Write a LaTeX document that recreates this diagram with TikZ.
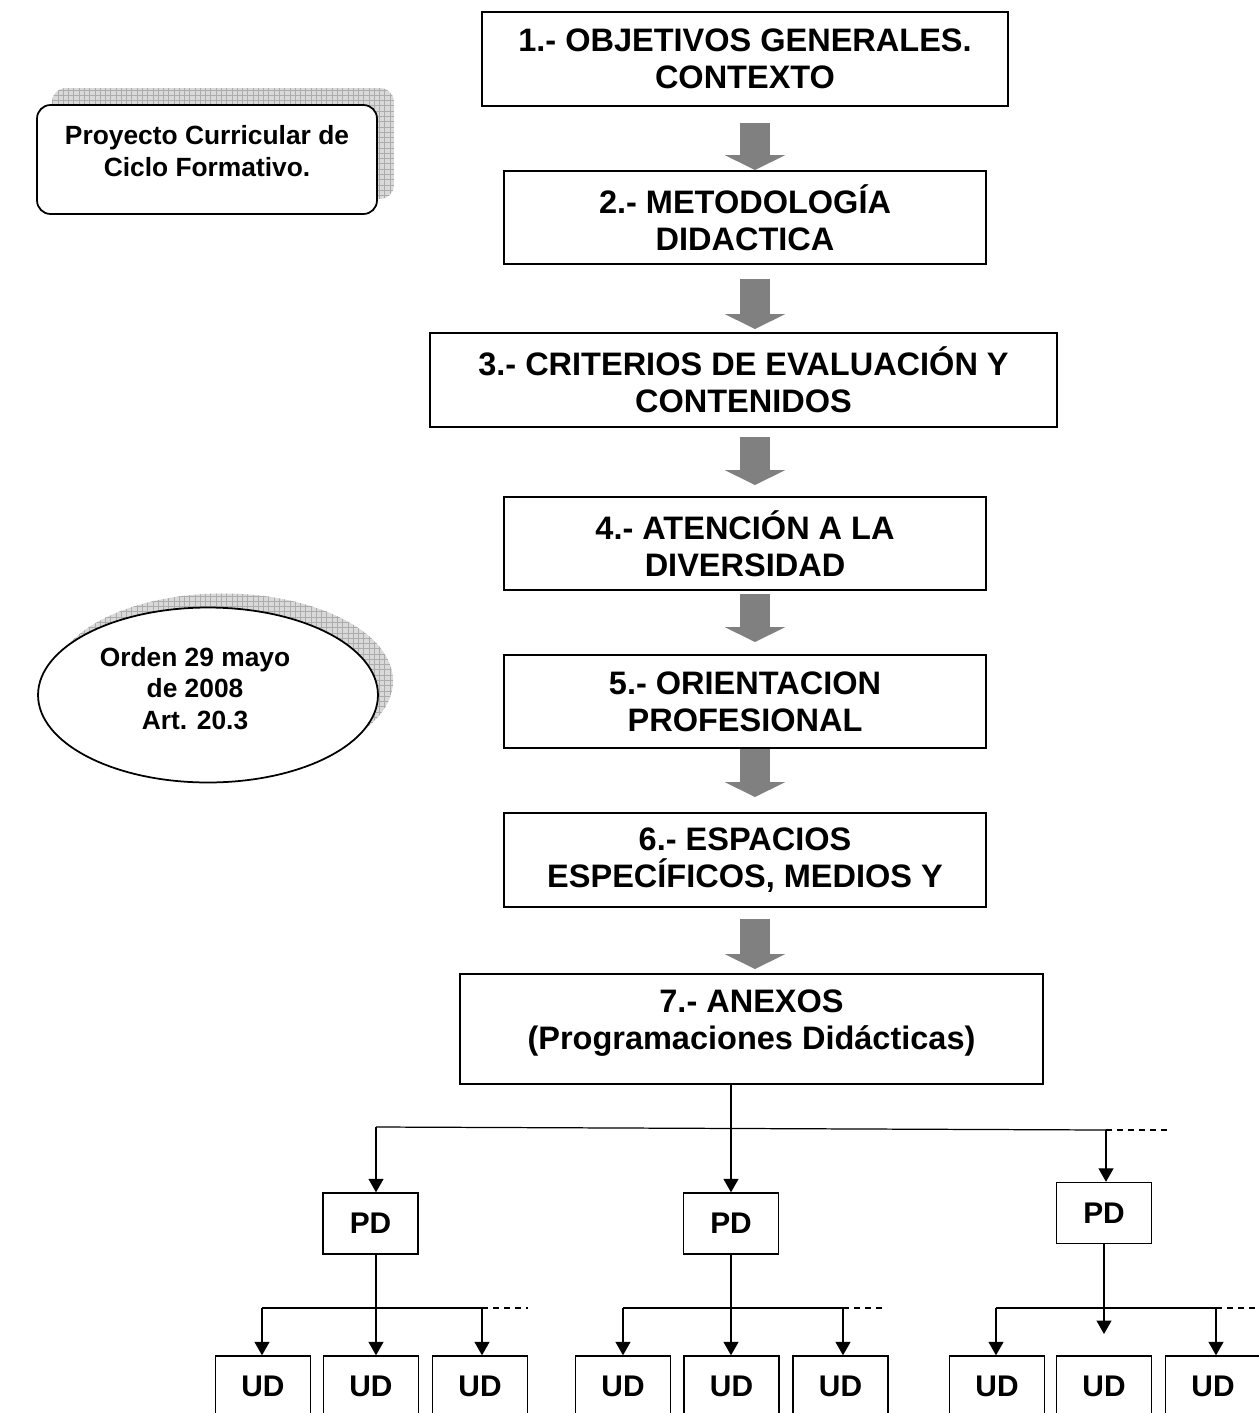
\documentclass[tikz,border=0pt]{standalone}
\usepackage{fontspec}
\setmainfont{Liberation Sans}
\usepackage{tikz}
\usetikzlibrary{arrows.meta,calc,shapes.geometric,patterns,backgrounds}

\begin{document}
\begin{tikzpicture}[x=0.02cm, y=-0.02cm,
		mainbox/.style={draw, line width=1.1pt, fill=white, align=center, inner sep=0pt, minimum width=9.64cm, minimum height=1.86cm, font=\fontsize{18.5}{21}\selectfont\bfseries},
		smallbox/.style={draw, line width=0.8pt, fill=white, inner sep=0pt, minimum width=1.9cm, minimum height=1.22cm, font=\fontsize{17}{20}\selectfont\bfseries},
		notebox/.style={draw, line width=1pt, fill=white, align=center, inner sep=0pt, font=\fontsize{15}{18}\selectfont\bfseries},
		bigarrow/.style={draw=gray, line width=0.6cm, -{Triangle[length=0.3cm,width=1.2cm]}},
		arr/.style={line width=0.7pt, -{Triangle[length=0.27cm,width=0.3cm]}},
		dots/.style={line width=0.7pt, dash pattern=on 0.12cm off 0.1cm},
		shadowfill/.style={fill=gray!30, postaction={pattern=grid, pattern color=gray!65}}]
		\useasboundingbox (0,0) rectangle (1258,1413);

		% notes on the left
		\node (pcc) [notebox, rounded corners=0.27cm, minimum width=6.8cm, minimum height=2.18cm] at (207,159.5) {Proyecto Curricular de\\Ciclo Formativo.\\[-8pt]\mbox{}};
		\node (ord) [notebox, ellipse, minimum width=6.8cm, minimum height=3.5cm] at (208,695) {\begin{tabular}{@{}c@{\hspace{0.52cm}}}Orden 29 mayo\\de 2008\\Art. 20.3\\[4pt]\end{tabular}};
		\begin{scope}[on background layer]
			\fill[shadowfill, rounded corners=0.27cm] ([shift={(16,-16)}]pcc.south west) rectangle ([shift={(16,-16)}]pcc.north east);
			\fill[shadowfill] ([shift={(15,-14)}]ord.center) ellipse [x radius=170, y radius=87.5];
		\end{scope}

		% main column
		\node (b1) [mainbox, minimum width=10.52cm, minimum height=1.88cm] at (745,59) {1.- OBJETIVOS GENERALES.\\CONTEXTO};
		\node (b2) [mainbox] at (745,217.5) {2.- METODOLOGÍA\\DIDACTICA};
		\node (b3) [mainbox, minimum width=12.54cm, minimum height=1.88cm] at (743.5,380) {3.- CRITERIOS DE EVALUACIÓN Y\\CONTENIDOS};
		\node (b4) [mainbox] at (745,543.5) {4.- ATENCIÓN A LA\\DIVERSIDAD};
		\node (b5) [mainbox] at (745,701.5) {5.- ORIENTACION\\PROFESIONAL};
		\node (b6) [mainbox, minimum height=1.88cm] at (745,860) {6.- ESPACIOS\\ESPECÍFICOS, MEDIOS Y};
		\node (b7) [mainbox, minimum width=11.66cm, minimum height=2.2cm] at (751.5,1029) {7.- ANEXOS\\(Programaciones Didácticas)\\[-10pt]\mbox{}};

		\coordinate (ax) at (755,0);
		\draw[bigarrow, shorten <=0.32cm] (b1.south -| ax) -- (b2.north -| ax);
		\draw[bigarrow, shorten <=0.28cm, shorten >=0.06cm] (b2.south -| ax) -- (b3.north -| ax);
		\draw[bigarrow, shorten <=0.18cm, shorten >=0.22cm] (b3.south -| ax) -- (b4.north -| ax);
		\draw[bigarrow, shorten <=0.06cm, shorten >=0.24cm] (b4.south -| ax) -- (b5.north -| ax);
		\draw[bigarrow, shorten >=0.3cm] (b5.south -| ax) -- (b6.north -| ax);
		\draw[bigarrow, shorten <=0.22cm, shorten >=0.08cm] (b6.south -| ax) -- (b7.north -| ax);

		% programaciones
		\node (pd1) [smallbox] at (370.5,1223.5) {PD};
		\node (pd2) [smallbox] at (731,1223.5) {PD};
		\node (pd3) [smallbox] at (1104,1213) {PD};

		\coordinate (busl) at (376,1127);
		\coordinate (busr) at (1106,1130);
		\coordinate (buse) at (1167,1130);
		\draw[line width=0.7pt] (busl) -- (busr);
		\draw[dots] (busr) -- (buse);
		\draw[arr] (busl) -- (busl |- pd1.north);
		\draw[arr] (b7.south -| pd2.north) -- (pd2.north);
		\draw[arr] (busr) -- (busr |- pd3.north);

		% unidades
		\node (ud11) [smallbox] at (263,1386.5) {UD};
		\node (ud12) [smallbox] at (371,1386.5) {UD};
		\node (ud13) [smallbox] at (480,1386.5) {UD};
		\node (ud21) [smallbox] at (623,1386.5) {UD};
		\node (ud22) [smallbox] at (731.5,1386.5) {UD};
		\node (ud23) [smallbox] at (840.5,1386.5) {UD};
		\node (ud31) [smallbox] at (997,1386.5) {UD};
		\node (ud32) [smallbox] at (1104,1386.5) {UD};
		\node (ud33) [smallbox] at (1213,1386.5) {UD};

		\coordinate (s1l) at (262,1308);
		\coordinate (s1r) at (482,1308);
		\coordinate (s1e) at (528,1308);
		\draw[line width=0.7pt] (s1l) -- (s1r);
		\draw[dots] (s1r) -- (s1e);
		\draw[arr] (s1l) -- (s1l |- ud11.north);
		\draw[arr] (pd1.south -| busl) -- (ud12.north -| busl);
		\draw[arr] (s1r) -- (s1r |- ud13.north);

		\coordinate (s2l) at (623,1308);
		\coordinate (s2r) at (843,1308);
		\coordinate (s2e) at (885,1308);
		\draw[line width=0.7pt] (s2l) -- (s2r);
		\draw[dots] (s2r) -- (s2e);
		\draw[arr] (s2l) -- (s2l |- ud21.north);
		\draw[arr] (pd2.south) -- (pd2.south |- ud22.north);
		\draw[arr] (s2r) -- (s2r |- ud23.north);

		\coordinate (s3l) at (996,1308);
		\coordinate (s3r) at (1216,1308);
		\coordinate (s3e) at (1258,1308);
		\coordinate (pd3end) at (1104,1334);
		\draw[line width=0.7pt] (s3l) -- (s3r);
		\draw[dots] (s3r) -- (s3e);
		\draw[arr] (s3l) -- (s3l |- ud31.north);
		\draw[arr] (pd3.south) -- (pd3end);
		\draw[arr] (s3r) -- (s3r |- ud33.north);
	\end{tikzpicture}
\end{document}
